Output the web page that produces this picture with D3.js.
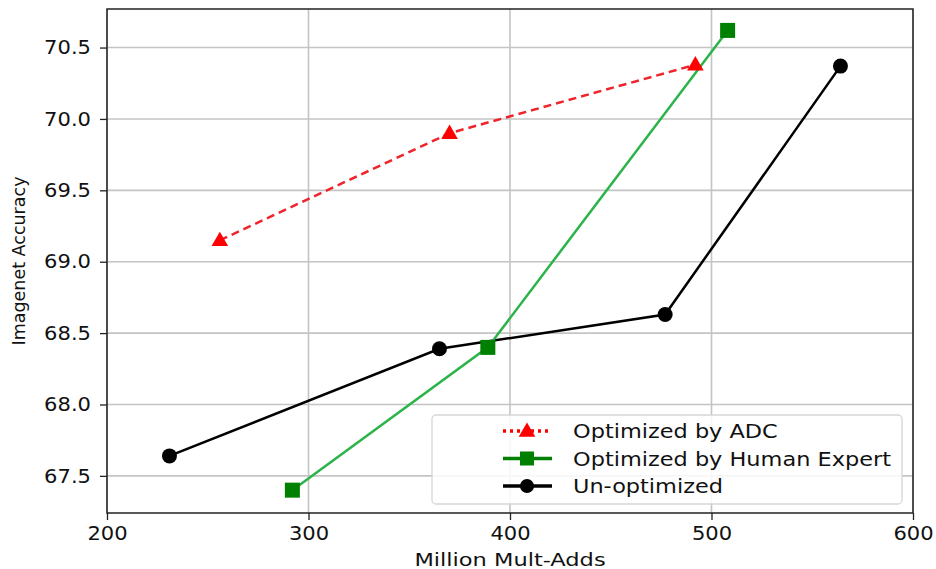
<!DOCTYPE html>
<html lang="en">
<head>
<meta charset="utf-8">
<title>Imagenet Accuracy vs Million Mult-Adds</title>
<script src="https://d3js.org/d3.v7.min.js"></script>
<style>
  body { margin: 0; background: #fff; }
  svg text { font-family: "DejaVu Sans", sans-serif; fill: #111; }
</style>
</head>
<body>
<div id="chart"></div>
<script>
// data
var adcX = [256, 370, 492];
var adcY = [69.15, 69.90, 70.38];
var humanX = [292, 389, 508];
var humanY = [67.40, 68.40, 70.62];
var unoptX = [231, 365, 477, 564];
var unoptY = [67.64, 68.39, 68.63, 70.37];

var xTicks = [200, 300, 400, 500, 600];
var yTicks = [67.5, 68.0, 68.5, 69.0, 69.5, 70.0, 70.5];

var seriesNames = ["Optimized by ADC", "Optimized by Human Expert", "Un-optimized"];

var W = 936, H = 569;
var margin = {top: 9, right: 23, bottom: 56, left: 107};
var width = W - margin.left - margin.right,
    height = H - margin.top - margin.bottom;

// the reference text is a bit wider than plain DejaVu, stretch it horizontally
function stretch(sel, k) {
  sel.each(function() {
    var w = this.getComputedTextLength();
    d3.select(this).attr("textLength", w * k).attr("lengthAdjust", "spacingAndGlyphs");
  });
}

var svg = d3.select("#chart").append("svg")
    .attr("width", W).attr("height", H);
var g = svg.append("g")
    .attr("transform", "translate(" + margin.left + "," + margin.top + ")");

var x = d3.scaleLinear().domain([200, 600]).range([0, width]);
var y = d3.scaleLinear().domain([67.24, 70.77]).range([height, 0]);

// grid
g.append("g").selectAll("line").data(xTicks).join("line")
    .attr("x1", d => x(d)).attr("x2", d => x(d))
    .attr("y1", 0).attr("y2", height)
    .attr("stroke", "#c4c4c4").attr("stroke-width", 1.6);
g.append("g").selectAll("line").data(yTicks).join("line")
    .attr("y1", d => y(d)).attr("y2", d => y(d))
    .attr("x1", 0).attr("x2", width)
    .attr("stroke", "#c4c4c4").attr("stroke-width", 1.6);

// axes
var xAxis = g.append("g")
    .attr("transform", "translate(0," + height + ")")
    .call(d3.axisBottom(x).tickValues(xTicks).tickSize(7).tickPadding(6).tickFormat(d3.format("d")));
var yAxis = g.append("g")
    .call(d3.axisLeft(y).tickValues(yTicks).tickSize(7).tickPadding(9).tickFormat(d3.format(".1f")));
[xAxis, yAxis].forEach(function(a) {
  a.select(".domain").remove();
  a.selectAll("line").attr("stroke", "#222").attr("stroke-width", 1.3);
  a.selectAll("text").style("font-size", "19.5px").attr("fill", "#111");
  stretch(a.selectAll("text"), 1.08);
});

// frame
g.append("rect")
    .attr("width", width).attr("height", height)
    .attr("fill", "none").attr("stroke", "#222").attr("stroke-width", 1.5);

var line = d3.line().x(d => x(d[0])).y(d => y(d[1]));

// un-optimized
var unopt = unoptX.map((v, i) => [v, unoptY[i]]);
g.append("path").datum(unopt).attr("d", line)
    .attr("fill", "none").attr("stroke", "#000").attr("stroke-width", 2.5);
g.selectAll(".circ").data(unopt).join("circle")
    .attr("cx", d => x(d[0])).attr("cy", d => y(d[1]))
    .attr("r", 7.5).attr("fill", "#000");

// human expert
var human = humanX.map((v, i) => [v, humanY[i]]);
g.append("path").datum(human).attr("d", line)
    .attr("fill", "none").attr("stroke", "#2cb34a").attr("stroke-width", 2.5);
g.selectAll(".sq").data(human).join("rect")
    .attr("x", d => x(d[0]) - 7.5).attr("y", d => y(d[1]) - 7.5)
    .attr("width", 15).attr("height", 15).attr("fill", "#008000");

// ADC
var adc = adcX.map((v, i) => [v, adcY[i]]);
g.append("path").datum(adc).attr("d", line)
    .attr("fill", "none").attr("stroke", "#f0222a").attr("stroke-width", 2.5)
    .attr("stroke-dasharray", "8,5");
var tri = d3.symbol().type(d3.symbolTriangle).size(120);
g.selectAll(".tri").data(adc).join("path")
    .attr("d", tri)
    .attr("transform", d => "translate(" + x(d[0]) + "," + (y(d[1]) + 1) + ")")
    .attr("fill", "#ff0000");

// axis labels
var xl = svg.append("text")
    .attr("x", margin.left + width / 2).attr("y", 566)
    .attr("text-anchor", "middle").style("font-size", "18px")
    .text("Million Mult-Adds");
stretch(xl, 1.25);
svg.append("text")
    .attr("transform", "translate(25," + (margin.top + height / 2) + ") rotate(-90)")
    .attr("text-anchor", "middle").style("font-size", "17.5px")
    .text("Imagenet Accuracy");

// legend
var lg = svg.append("g").attr("transform", "translate(432,415)");
lg.append("rect")
    .attr("width", 470).attr("height", 89).attr("rx", 4)
    .attr("fill", "rgba(255,255,255,0.85)").attr("stroke", "#d6d6d6").attr("stroke-width", 1.3);
var rows = [
  {name: seriesNames[0], color: "#ff0000", dash: "3,4", mark: "tri"},
  {name: seriesNames[1], color: "#008000", dash: null, mark: "sq"},
  {name: seriesNames[2], color: "#000", dash: null, mark: "circ"}
];
rows.forEach(function(r, i) {
  var cy = 16 + i * 27.5;
  var ln = lg.append("line")
      .attr("x1", 71).attr("x2", 120).attr("y1", cy).attr("y2", cy)
      .attr("stroke", r.color).attr("stroke-width", 3.5);
  if (r.dash) ln.attr("stroke-dasharray", r.dash);
  if (r.mark == "tri") {
    lg.append("path").attr("d", tri)
      .attr("transform", "translate(95," + (cy + 1) + ")").attr("fill", r.color);
  } else if (r.mark == "sq") {
    lg.append("rect").attr("x", 88).attr("y", cy - 7).attr("width", 14).attr("height", 14)
      .attr("fill", r.color);
  } else {
    lg.append("circle").attr("cx", 95).attr("cy", cy).attr("r", 7).attr("fill", r.color);
  }
  var t = lg.append("text")
      .attr("x", 141).attr("y", cy + 7)
      .style("font-size", "19px")
      .text(r.name);
  stretch(t, 1.18);
});
</script>
</body>
</html>
